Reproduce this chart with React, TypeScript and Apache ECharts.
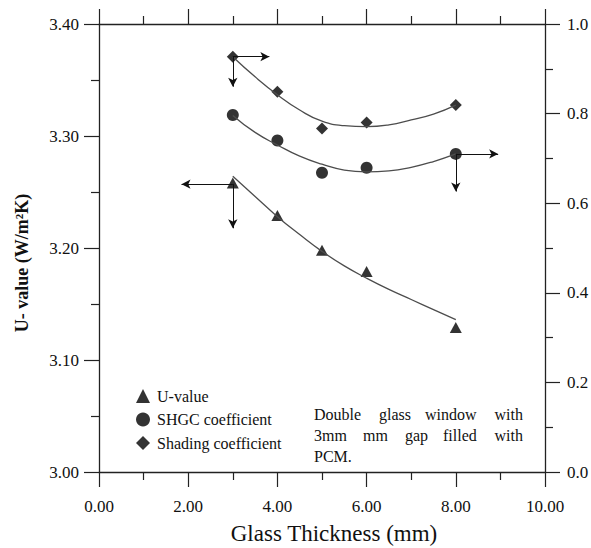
import React, { useEffect, useRef } from "react";
import * as echarts from "echarts";

// Measured points
const thickness = [3, 4, 5, 6, 8];
const uValue = [3.258, 3.229, 3.198, 3.179, 3.129];
const shgc = [0.797, 0.74, 0.668, 0.679, 0.71];
const shading = [0.927, 0.849, 0.767, 0.78, 0.819];

// Fitted trend curves
const fitX = [3, 3.5, 4, 4.5, 5, 5.5, 6, 6.5, 7, 7.5, 8];
const uFit = [3.264, 3.246, 3.228, 3.212, 3.197, 3.184, 3.173, 3.163, 3.154, 3.145, 3.136];
const shgcFit = [0.796, 0.758, 0.73, 0.705, 0.687, 0.674, 0.67, 0.672, 0.68, 0.693, 0.71];
const shadingFit = [0.927, 0.882, 0.842, 0.808, 0.783, 0.773, 0.771, 0.775, 0.786, 0.799, 0.819];

// Tick labels
const xTickLabels = ["0.00", "2.00", "4.00", "6.00", "8.00", "10.00"];
const leftTickLabels = ["3.00", "3.10", "3.20", "3.30", "3.40"];
const rightTickLabels = ["0.0", "0.2", "0.4", "0.6", "0.8", "1.0"];

// Axis-pointer arrows: [from, to] in data coordinates
const shadingArrows = [
  [[3, 0.927], [3.82, 0.927]],
  [[3, 0.927], [3, 0.86]],
];
const uArrows = [
  [[3, 3.257], [1.85, 3.257]],
  [[3, 3.257], [3, 3.2176]],
];
const shgcArrows = [
  [[8, 0.71], [8.95, 0.71]],
  [[8, 0.71], [8, 0.626]],
];

const noteLines = [
  ["Double", "glass", "window", "with"],
  ["3mm", "mm", "gap", "filled", "with"],
  ["PCM."],
];

const FONT = "Liberation Serif";
const INK = "#111";
const CURVE = "#4d4d4d";

const zip = (xs: number[], ys: number[]) => xs.map((x, i) => [x, ys[i]]);

const arrowMark = (arrows: number[][][]) => ({
  silent: true,
  symbol: ["none", "arrow"],
  symbolSize: [7, 9],
  label: { show: false },
  lineStyle: { color: INK, width: 1, type: "solid" },
  emphasis: { disabled: true },
  data: arrows.map(([a, b]) => [{ coord: a }, { coord: b }]),
});

export default function App() {
  const ref = useRef<HTMLDivElement>(null);

  useEffect(() => {
    if (!ref.current) return;
    const chart = echarts.init(ref.current, null, { renderer: "svg" });

    const axisLine = { show: true, onZero: false, lineStyle: { color: "#222", width: 1.3 } };
    const tick = { show: true, inside: false, length: 15, lineStyle: { color: "#222", width: 1.2 } };
    const minor = { show: true, splitNumber: 2, length: 8, lineStyle: { color: "#222", width: 1.2 } };
    const label = { color: INK, fontFamily: FONT, fontSize: 17 };

    // Note text word positions (justified lines)
    const wordX = [
      [314, 379, 425, 523],
      [314, 363, 405, 443, 523],
      [314],
    ];
    const lineY = [414, 435, 456];
    const graphics: any[] = [];
    noteLines.forEach((words, li) => {
      words.forEach((w, wi) => {
        const isLast = wi === words.length - 1 && words.length > 1;
        graphics.push({
          type: "text",
          x: wordX[li][wi],
          y: lineY[li],
          style: {
            text: w,
            fill: INK,
            fontFamily: FONT,
            fontSize: 16,
            align: isLast ? "right" : "left",
            verticalAlign: "middle",
          },
        });
      });
    });
    graphics.push({
      type: "text",
      x: 22,
      y: 263,
      rotation: Math.PI / 2,
      style: {
        text: "U- value (W/m²K)",
        fill: INK,
        fontFamily: FONT,
        fontSize: 18,
        fontWeight: "bold",
        align: "center",
        verticalAlign: "middle",
      },
    });

    chart.setOption({
      animation: false,
      backgroundColor: "#fff",
      grid: {
        left: 99,
        right: 46,
        top: 24,
        bottom: 76,
        containLabel: false,
        outerBoundsMode: "none",
      },
      legend: {
        data: [
          { name: "U-value", icon: "triangle" },
          { name: "SHGC coefficient", icon: "circle" },
          { name: "Shading coefficient", icon: "diamond" },
        ],
        orient: "vertical",
        left: 136,
        top: 388,
        padding: 0,
        itemWidth: 14,
        itemHeight: 14,
        itemGap: 7.5,
        selectedMode: false,
        textStyle: { color: INK, fontFamily: FONT, fontSize: 16, padding: [0, 0, 0, 2] },
      },
      xAxis: [
        {
          type: "value",
          min: 0,
          max: 10,
          interval: 2,
          position: "bottom",
          axisLine,
          axisTick: tick,
          minorTick: minor,
          splitLine: { show: false },
          axisLabel: {
            ...label,
            margin: 26,
            formatter: (v: number) => xTickLabels[Math.round(v / 2)] ?? "",
          },
          name: "Glass Thickness (mm)",
          nameLocation: "middle",
          nameGap: 50,
          nameTextStyle: { color: INK, fontFamily: FONT, fontSize: 23, padding: [0, 0, 0, 24] },
        },
        {
          type: "value",
          min: 0,
          max: 10,
          interval: 2,
          position: "top",
          axisLine,
          axisTick: tick,
          minorTick: minor,
          splitLine: { show: false },
          axisLabel: { show: false },
        },
      ],
      yAxis: [
        {
          type: "value",
          min: 3.0,
          max: 3.4,
          interval: 0.1,
          position: "left",
          axisLine,
          axisTick: tick,
          minorTick: minor,
          splitLine: { show: false },
          axisLabel: {
            ...label,
            margin: 20,
            formatter: (v: number) => leftTickLabels[Math.round((v - 3) / 0.1)] ?? "",
          },
        },
        {
          type: "value",
          min: 0,
          max: 1,
          interval: 0.2,
          position: "right",
          axisLine,
          axisTick: tick,
          minorTick: minor,
          splitLine: { show: false },
          axisLabel: {
            ...label,
            margin: 22,
            formatter: (v: number) => rightTickLabels[Math.round(v / 0.2)] ?? "",
          },
        },
      ],
      series: [
        {
          name: "U-value fit",
          type: "line",
          xAxisIndex: 0,
          yAxisIndex: 0,
          data: zip(fitX, uFit),
          smooth: true,
          showSymbol: false,
          silent: true,
          lineStyle: { color: CURVE, width: 1.3 },
        },
        {
          name: "SHGC fit",
          type: "line",
          yAxisIndex: 1,
          data: zip(fitX, shgcFit),
          smooth: true,
          showSymbol: false,
          silent: true,
          lineStyle: { color: CURVE, width: 1.3 },
        },
        {
          name: "Shading fit",
          type: "line",
          yAxisIndex: 1,
          data: zip(fitX, shadingFit),
          smooth: true,
          showSymbol: false,
          silent: true,
          lineStyle: { color: CURVE, width: 1.3 },
        },
        {
          name: "U-value",
          type: "scatter",
          yAxisIndex: 0,
          data: zip(thickness, uValue),
          symbol: "triangle",
          symbolSize: [12, 11],
          itemStyle: { color: "#000" },
          markLine: arrowMark(uArrows),
        },
        {
          name: "SHGC coefficient",
          type: "scatter",
          yAxisIndex: 1,
          data: zip(thickness, shgc),
          symbol: "circle",
          symbolSize: 12,
          itemStyle: { color: "#000" },
          markLine: arrowMark(shgcArrows),
        },
        {
          name: "Shading coefficient",
          type: "scatter",
          yAxisIndex: 1,
          data: zip(thickness, shading),
          symbol: "diamond",
          symbolSize: 12,
          itemStyle: { color: "#000" },
          markLine: arrowMark(shadingArrows),
        },
      ],
      graphic: graphics,
    });

    return () => chart.dispose();
  }, []);

  return (
    <div
      ref={ref}
      style={{ position: "absolute", left: 0, top: 0, width: 591, height: 548 }}
    />
  );
}
